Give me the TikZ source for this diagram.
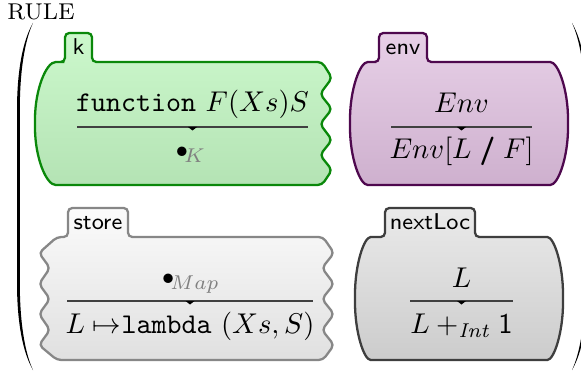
\documentclass[tikz,border=0pt]{standalone}
\usetikzlibrary{calc}

\definecolor{kLine}{RGB}{10,136,10}
\definecolor{kTop}{RGB}{204,248,204}
\definecolor{kBottom}{RGB}{180,227,180}
\definecolor{envLine}{RGB}{78,8,78}
\definecolor{envTop}{RGB}{231,208,231}
\definecolor{envBottom}{RGB}{206,176,206}
\definecolor{storeLine}{RGB}{135,135,135}
\definecolor{storeTop}{RGB}{251,251,251}
\definecolor{storeBottom}{RGB}{224,224,224}
\definecolor{nextLine}{RGB}{62,62,62}
\definecolor{nextTop}{RGB}{234,234,234}
\definecolor{nextBottom}{RGB}{204,204,204}

\tikzset{
  cellBox/.style={line width=0.8pt, rounded corners=1.5pt},
  tabLabel/.style={font=\footnotesize\sffamily, anchor=base, inner sep=0pt},
  termText/.style={anchor=base, inner sep=0pt},
  ruleLine/.style={draw=black!75, line width=0.45pt},
}

\begin{document}
\begin{tikzpicture}[x=0.35pt,y=-0.35pt]
\useasboundingbox (0,0) rectangle (581,374);

% the rule label and the big parentheses
\node[anchor=base, inner sep=0pt, font=\footnotesize](ruleLabel) at (41,20){RULE};
\fill (33,23) .. controls (23,40) and (17,70) .. (17,110) -- (17,283) .. controls (17,323) and (23,353) .. (33,370)
      .. controls (25,353) and (19.8,323) .. (19.8,283) -- (19.8,110) .. controls (19.8,70) and (25,40) .. (33,23) -- cycle;
\fill (572,23) .. controls (582,40) and (588,70) .. (588,110) -- (588,283) .. controls (588,323) and (582,353) .. (572,370)
      .. controls (580,353) and (585.2,323) .. (585.2,283) -- (585.2,110) .. controls (585.2,70) and (580,40) .. (572,23) -- cycle;

% k cell
\draw[cellBox, draw=kLine, top color=kTop, bottom color=kBottom]
  (65,45) -- (65,33) -- (92,33) -- (92,62) -- (322,62)
  -- (332,78) -- (320,94) -- (332,109) -- (320,124) -- (332,140) -- (320,155) -- (332,170) -- (322,185)
  -- (60,185) .. controls (46.2,185) and (35,157.5) .. (35,123.5) .. controls (35,89.5) and (46.2,62) .. (60,62)
  -- (65,62) -- cycle;
\node[tabLabel](kTab) at (78.5,55){k};
\node[termText](kNum) at (192.5,112){\texttt{function} $F(Xs)S$};
\node[termText](kDen) at (191,158){$\hbox{\footnotesize$\bullet$}_{\!\color{gray}K}$};
\coordinate(kRuleL) at (77,127);
\coordinate(kRuleR) at (308,127);
\draw[ruleLine] (kRuleL) -- coordinate[pos=0.5](kMid) (kRuleR);
\fill (kMid) ++(-4.5,0) -- ++(9,0) -- ++(-4.5,3.5) -- cycle;

% env cell
\draw[cellBox, draw=envLine, top color=envTop, bottom color=envBottom]
  (379,45) -- (379,33) -- (427,33) -- (427,62) -- (546,62)
  .. controls (558.1,62) and (568,89.5) .. (568,123.5) .. controls (568,157.5) and (558.1,185) .. (546,185)
  -- (372,185) .. controls (359.9,185) and (350,157.5) .. (350,123.5) .. controls (350,89.5) and (359.9,62) .. (372,62)
  -- (379,62) -- cycle;
\node[tabLabel](envTab) at (403,55){env};
\node[termText](envNum) at (461.5,113){$Env$};
\node[termText](envDen) at (461.5,159){$Env[L \mathrel{\textsf{\bfseries /}} F]$};
\coordinate(envRuleL) at (391,127);
\coordinate(envRuleR) at (532,127);
\draw[ruleLine] (envRuleL) -- coordinate[pos=0.5](envMid) (envRuleR);
\fill (envMid) ++(-4.5,0) -- ++(9,0) -- ++(-4.5,3.5) -- cycle;

% store cell
\draw[cellBox, draw=storeLine, top color=storeTop, bottom color=storeBottom]
  (68,222) -- (68,208) -- (128,208) -- (128,237) -- (323,237)
  -- (334,253) -- (322,268) -- (334,284) -- (322,299) -- (334,314) -- (322,330) -- (334,345) -- (323,360)
  -- (57,360)
  -- (39,345) -- (50,330) -- (39,314) -- (50,299) -- (39,284) -- (50,268) -- (39,253) -- (57,237)
  -- (68,237) -- cycle;
\node[tabLabel](storeTab) at (98,230){store};
\node[termText](storeNum) at (191,285){$\hbox{\footnotesize$\bullet$}_{\!\color{gray}Map}$};
\node[termText](storeDen) at (190,333){$L \mapsto$\texttt{lambda} $(Xs, S)$};
\coordinate(storeRuleL) at (67,301);
\coordinate(storeRuleR) at (313,301);
\draw[ruleLine] (storeRuleL) -- coordinate[pos=0.5](storeMid) (storeRuleR);
\fill (storeMid) ++(-4.5,0) -- ++(9,0) -- ++(-4.5,3.5) -- cycle;

% nextLoc cell
\draw[cellBox, draw=nextLine, top color=nextTop, bottom color=nextBottom]
  (385,222) -- (385,208) -- (475,208) -- (475,237) -- (543,237)
  .. controls (554,237) and (563,264.5) .. (563,298.5) .. controls (563,332.5) and (554,360) .. (543,360)
  -- (375,360) .. controls (364,360) and (355,332.5) .. (355,298.5) .. controls (355,264.5) and (364,237) .. (375,237)
  -- (385,237) -- cycle;
\node[tabLabel](nextTab) at (430,230){nextLoc};
\node[termText](nextNum) at (461.5,287){$L$};
\node[termText](nextDen) at (461.5,333){$L +_{\mathit{Int}} \textsf{1}$};
\coordinate(nextRuleL) at (410,301);
\coordinate(nextRuleR) at (513,301);
\draw[ruleLine] (nextRuleL) -- coordinate[pos=0.5](nextMid) (nextRuleR);
\fill (nextMid) ++(-4.5,0) -- ++(9,0) -- ++(-4.5,3.5) -- cycle;
\end{tikzpicture}
\end{document}
